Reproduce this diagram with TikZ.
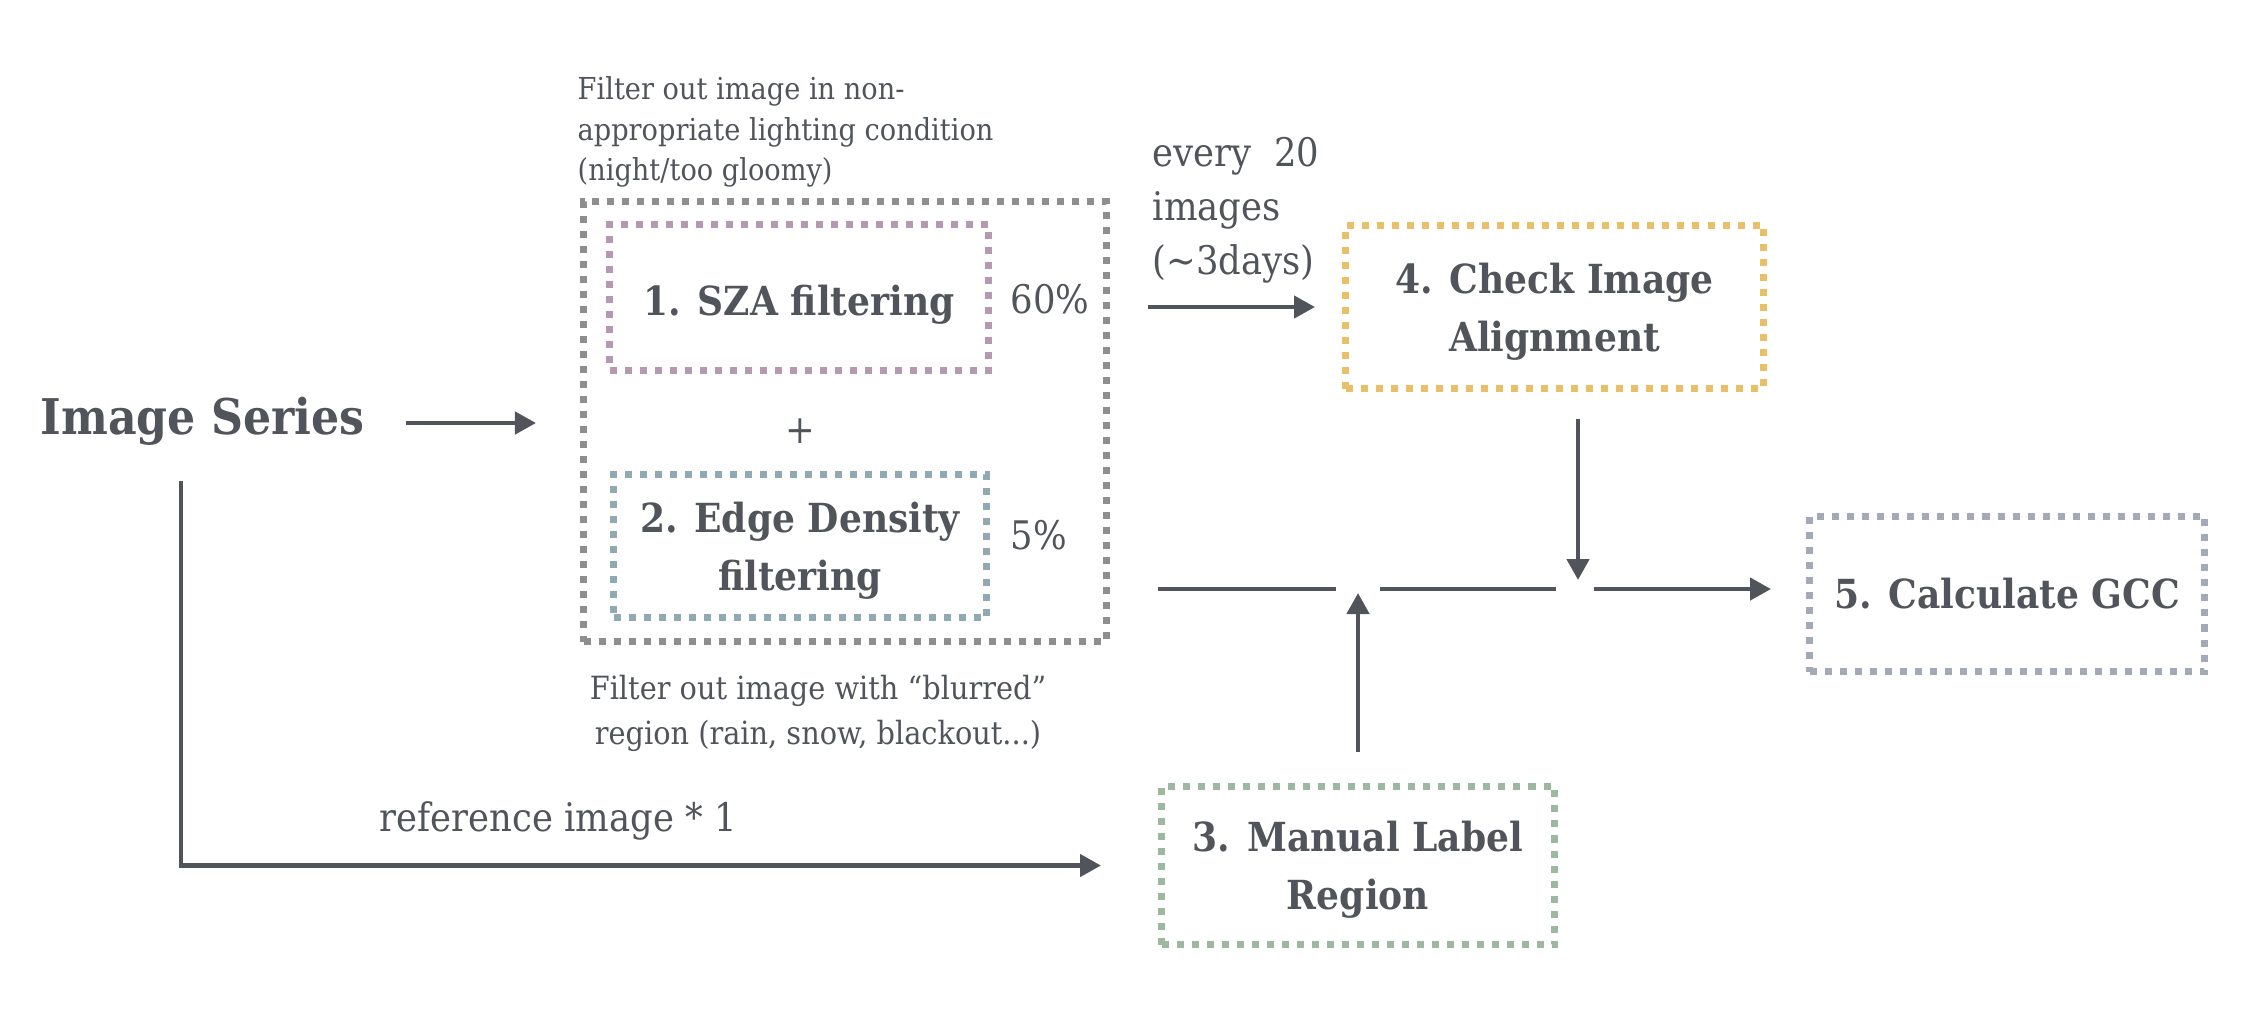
\documentclass[tikz,border=0pt]{standalone}
\usepackage{fontspec}
\setmainfont{DejaVu Serif}[FakeStretch=0.9]
\usetikzlibrary{arrows.meta}

\definecolor{inkgray}{RGB}{81,85,91}
\definecolor{framegray}{RGB}{142,142,142}
\definecolor{szamauve}{RGB}{181,152,178}
\definecolor{edgeblue}{RGB}{144,169,179}
\definecolor{checkyellow}{RGB}{233,191,105}
\definecolor{manualgreen}{RGB}{156,184,158}
\definecolor{gccslate}{RGB}{164,169,184}

\begin{document}
\begin{tikzpicture}

\tikzstyle{stagebox} = [rectangle,draw,line width=2pt,dash pattern=on 0.07cm off 0.08cm,inner sep=0,align=center,text=inkgray,font=\fontsize{11.4}{16.5}\selectfont\bfseries]%
\tikzstyle{twoline} = [stagebox,text depth=-1.3pt]%
\tikzstyle{frame} = [stagebox,draw=framegray]%
\tikzstyle{note} = [inner sep=0,align=left,text=inkgray,font=\fontsize{11.2}{15.4}\selectfont]%
\tikzstyle{flowarc} = [-{Triangle[length=0.21cm,width=0.22cm]},line width=1.3pt,draw=inkgray]%
\tikzstyle{flowline} = [line width=1.3pt,draw=inkgray]%

\useasboundingbox (0,0) rectangle (22.5,-10.18);

\node[note,anchor=west,font=\fontsize{14}{17}\selectfont\bfseries] (series) at (0.40,-4.21) {Image Series};

\node[frame,minimum width=5.23cm,minimum height=4.40cm] (filters) at (8.45,-4.215) {};
\node[stagebox,draw=szamauve,minimum width=3.79cm,minimum height=1.46cm,text height=10pt,text depth=0pt] (sza) at (7.99,-2.975) {1. SZA filtering};
\node[note] (plus) at (8.00,-4.31) {+};
\node[twoline,draw=edgeblue,minimum width=3.73cm,minimum height=1.43cm] (edge) at (8.00,-5.46) {2. Edge Density\\filtering};
\node[note,anchor=west] (szarate) at (10.10,-2.99) {60\%};
\node[note,anchor=west] (edgerate) at (10.10,-5.35) {5\%};

\node[note,anchor=west,font=\fontsize{8.6}{11.6}\selectfont] (lightnote) at (5.77,-1.32) {Filter out image in non-\\appropriate lighting condition\\(night/too gloomy)};
\node[note,align=center,font=\fontsize{9.1}{12.8}\selectfont] (blurnote) at (8.18,-7.13) {Filter out image with “blurred”\\region (rain, snow, blackout...)};

\node[twoline,draw=checkyellow,minimum width=4.18cm,minimum height=1.63cm] (check) at (15.545,-3.07) {4. Check Image\\Alignment};
\node[note,anchor=west] (every) at (11.52,-2.10) {every~~20\\images\\(\textasciitilde3days)};

\node[twoline,draw=manualgreen,minimum width=3.93cm,minimum height=1.58cm] (manual) at (13.58,-8.655) {3. Manual Label\\Region};
\node[stagebox,draw=gccslate,minimum width=3.95cm,minimum height=1.55cm] (gcc) at (20.07,-5.94) {5. Calculate GCC};

\coordinate (refstart) at (1.81,-4.81);
\coordinate (jmerge) at (13.58,-5.89);
\coordinate (jcheck) at (15.78,-5.89);

\draw[flowarc,shorten <=0.40cm,shorten >=0.44cm] ([yshift=-0.02cm]series.east) -- ([yshift=-0.02cm]series.east -| filters.west);

\draw[flowarc,shorten <=0.375cm,shorten >=0.27cm] (filters.east |- check.west) -- (check.west);

\draw[flowarc] (refstart) |- ([xshift=-0.57cm]manual.west)
    node[note,pos=0.705,above=0.23cm] {reference image * 1};

\draw[flowline,shorten <=0.48cm,shorten >=0.22cm] (filters.east |- jmerge) -- (jmerge);
\draw[flowline,shorten <=0.22cm,shorten >=0.22cm] (jmerge) -- (jcheck);
\draw[flowarc,shorten <=0.16cm,shorten >=0.35cm] (jcheck) -- (jcheck -| gcc.west);

\draw[flowarc,shorten <=0.27cm,shorten >=0.09cm] (jcheck |- check.south) -- (jcheck);
\draw[flowarc,shorten <=0.31cm,shorten >=0.04cm] (manual.north) -- (jmerge);

\end{tikzpicture}
\end{document}
